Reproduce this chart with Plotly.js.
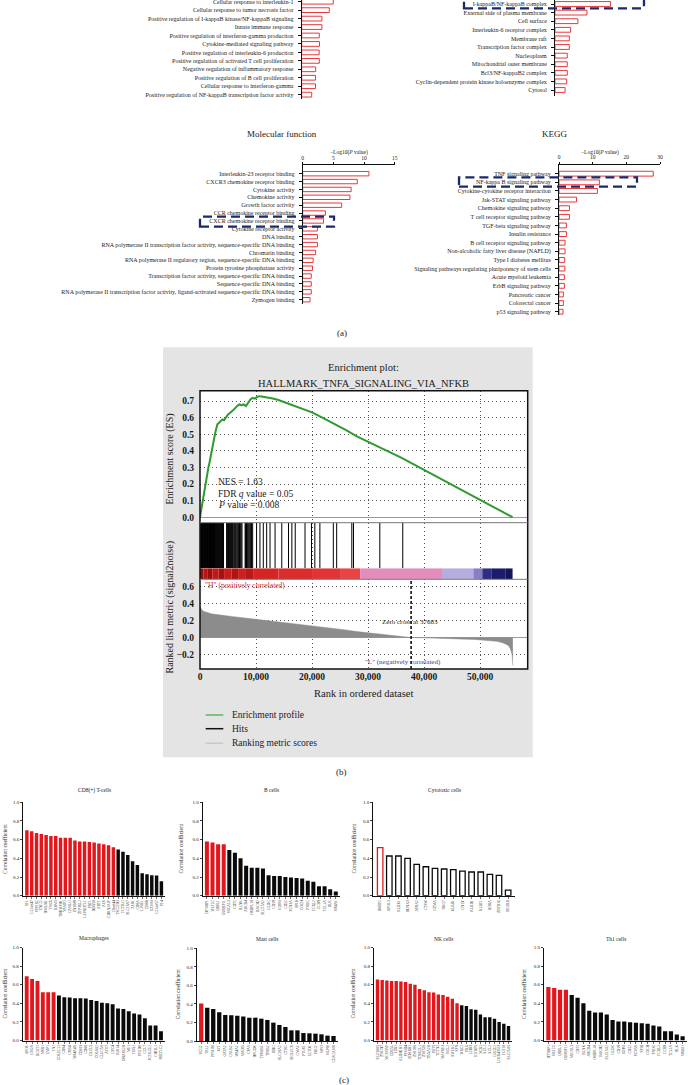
<!DOCTYPE html>
<html><head><meta charset="utf-8">
<script src="https://cdn.plot.ly/plotly-3.0.1.min.js"></script>
<style>html,body{margin:0;padding:0;background:#fff;}#chart{width:688px;height:1085px;}</style>
</head><body><div id="chart"></div>
<script>
// ---------------- (a) GO / KEGG enrichment ----------------
const bpTerms = ["Cellular response to interleukin-1","Cellular response to tumor necrosis factor","Positive regulation of I-kappaB kinase/NF-kappaB signaling","Innate immune response","Positive regulation of interferon-gamma production","Cytokine-mediated signaling pathway","Positive regulation of interleukin-6 production","Positive regulation of activated T cell proliferation","Negative regulation of inflammatory response","Positive regulation of B cell proliferation","Cellular response to interferon-gamma","Positive regulation of NF-kappaB transcription factor activity"];
const bpValues = [5.15,4.5,3.3,3.3,2.87,2.9,2.85,2.87,2.28,2.25,2.25,1.63];

const ccTerms = ["I-kappaB/NF-kappaB complex","External side of plasma membrane","Cell surface","Interleukin-6 receptor complex","Membrane raft","Transcription factor complex","Nucleoplasm","Mitochondrial outer membrane","Bcl3/NF-kappaB2 complex","Cyclin-dependent protein kinase holoenzyme complex","Cytosol"];
const ccValues = [16.5,9.5,6.8,4.65,4.25,4.25,3.65,3.65,3.65,3.47,3.0];

const mfTerms = ["Interleukin-23 receptor binding","CXCR3 chemokine receptor binding","Cytokine activity","Chemokine activity","Growth factor activity","CCR chemokine receptor binding","CXCR chemokine receptor binding","Cytokine receptor activity","DNA binding","RNA polymerase II transcription factor activity, sequence-specific DNA binding","Chromatin binding","RNA polymerase II regulatory region, sequence-specific DNA binding","Protein tyrosine phosphatase activity","Transcription factor activity, sequence-specific DNA binding","Sequence-specific DNA binding","RNA polymerase II transcription factor activity, ligand-activated sequence-specific DNA binding","Zymogen binding"];
const mfValues = [10.8,8.9,7.9,7.7,6.35,3.7,3.4,2.4,2.4,2.4,2.1,1.7,1.6,1.4,1.4,1.4,1.2];
const mfTicks = [0,5,10,15];

const keggTerms = ["TNF signaling pathway","NF-kappa B signaling pathway","Cytokine-cytokine receptor interaction","Jak-STAT signaling pathway","Chemokine signaling pathway","T cell receptor signaling pathway","TGF-beta signaling pathway","Insulin resistance","B cell receptor signaling pathway","Non-alcoholic fatty liver disease (NAFLD)","Type I diabetes mellitus","Signaling pathways regulating pluripotency of stem cells","Acute myeloid leukemia","ErbB signaling pathway","Pancreatic cancer","Colorectal cancer","p53 signaling pathway"];
const keggValues = [28.0,12.0,11.4,5.2,3.1,3.1,2.2,2.2,1.8,1.8,1.7,1.75,1.6,1.6,1.3,1.3,1.2];
const keggTicks = [0,10,20,30];

// ---------------- (b) GSEA ----------------
const gseaTitle = "HALLMARK_TNFA_SIGNALING_VIA_NFKB";
const esRank = [0,150,300,500,700,900,1100,1300,1500,1700,1900,2100,2300,2500,2800,3100,3400,3700,4000,4300,4600,5000,5400,5800,6200,6600,7000,7400,7800,8200,8600,9000,9400,9800,10200,10600,11000,11500,12000,12500,13000,14000,15000,16000,17000,18000,19000,20000,22000,24000,26000,28000,30000,32000,34000,36000,38000,40000,42000,44000,46000,48000,50000,52000,54000,55800];
const esScore = [0,0.03,0.07,0.12,0.16,0.2,0.23,0.27,0.3,0.33,0.37,0.41,0.44,0.47,0.52,0.56,0.57,0.58,0.59,0.585,0.6,0.62,0.63,0.64,0.655,0.67,0.68,0.675,0.68,0.67,0.69,0.71,0.72,0.715,0.725,0.73,0.728,0.726,0.722,0.72,0.716,0.707,0.695,0.683,0.672,0.66,0.645,0.632,0.598,0.563,0.527,0.487,0.455,0.42,0.392,0.358,0.322,0.285,0.249,0.213,0.177,0.14,0.104,0.069,0.033,0];
const hitRanks = [60,150,260,340,430,520,610,700,800,880,960,1050,1150,1240,1330,1420,1500,1600,1700,1780,1870,1960,2050,2150,2240,2330,2420,2510,2600,2700,2790,2880,2980,3070,3160,3250,3350,3440,3530,3620,3720,3810,3900,4000,4100,4200,4750,4850,4950,5080,5200,5300,5420,5550,5650,5780,5900,6050,6200,6300,6450,6600,6750,6900,7050,7200,7350,7500,8050,8150,8300,8450,8600,8750,8900,9050,9200,9400,10100,10700,11300,11900,12500,13400,14600,15800,16400,17000,18750,19900,20500,21400,23800,24400,27100,27400,32100,36200];
const metricRank = [0,100,300,600,1000,1500,2000,3000,4000,5000,6000,8000,10000,12000,14000,16000,18000,20000,22000,24000,26000,28000,30000,32000,34000,36000,37683,40000,43000,43300,46000,49000,51000,53000,54000,55000,55400,55700,55850];
const metricScore = [0.37,0.35,0.33,0.31,0.30,0.29,0.28,0.27,0.26,0.255,0.245,0.23,0.215,0.2,0.185,0.17,0.155,0.14,0.12,0.105,0.09,0.07,0.055,0.042,0.028,0.012,0,-0.003,-0.006,-0.012,-0.016,-0.022,-0.03,-0.045,-0.06,-0.09,-0.13,-0.2,-0.33];
const segStart = [0,600,1400,2200,3300,4300,5600,6800,8200,9600,14000,20000,25000,28600,43200,48800,50400,52000,54500];
const segEnd   = [600,1400,2200,3300,4300,5600,6800,8200,9600,14000,20000,25000,28600,43200,48800,50400,52000,54500,55800];
const segColor = ["#8e0c0c","#b81414","#9a0e0e","#c01818","#a51010","#c81c1c","#b01515","#cc2020","#b81818","#d42424","#dc2c2c","#e23434","#e84444","#e48cbc","#b4aede","#8a7ec6","#2e2e86","#1c1c6c","#14145a"];
const rankTicks = [0,10000,20000,30000,40000,50000];
const rankTickText = ["0","10,000","20,000","30,000","40,000","50,000"];
const esTicks = [0,0.1,0.2,0.3,0.4,0.5,0.6,0.7];
const metricTicks = [-0.2,0,0.2,0.4,0.6];
const zeroCross = 37683;
const nes = "1.63", fdrQ = "0.05", pValue = "0.008";

// ---------------- (c) correlation bar charts ----------------
const cd8Genes = ["SF1","C12orf47","PPP1R2","ZNF22","DNAJB1","TMC6","RBM3","THUMPD1","VAMP2","CAMLG","ZNF609","ZFP36L2","LEPROTL1","PRF1","DDX50","ABT1","AES","CDKN2AIP","C8orf44","TSC22D3","FLT3LG","SLC16A7","ZEB1","CD8A","LIME1","CD8B","GZMM","C21orf57","PF4"];
const cd8Values = [0.70,0.69,0.67,0.66,0.65,0.64,0.64,0.62,0.62,0.62,0.59,0.58,0.58,0.575,0.57,0.56,0.55,0.54,0.52,0.495,0.47,0.435,0.37,0.33,0.24,0.23,0.22,0.215,0.155];
const cd8Red = 19;
const bGenes = ["DTNBP1","MEF2C","QRSL1","GUSBP11","MICAL3","CD72","BLNK","ABCB4","OSBPL10","BACH2","SLC15A2","GLDC","CD19","IGHM","CD22","SCN3A","SPIB","COCH","PNOC","FCRL2","CCR9","TCL1A","BLK","MS4A1"];
const bValues = [0.58,0.57,0.55,0.55,0.49,0.46,0.40,0.32,0.30,0.30,0.29,0.22,0.21,0.21,0.20,0.195,0.19,0.185,0.16,0.15,0.10,0.10,0.07,0.045];
const bRed = 4;
const cytoGenes = ["DUSP2","APOL3","KLRK1","RUNX3","APBA2","CTSW","GZMA","NKG7","KLRB1","GNLY","KLRD1","KLRF1","RORA","ZBTB16","SIGIRR"];
const cytoValues = [0.514,0.425,0.425,0.40,0.336,0.31,0.293,0.286,0.28,0.264,0.254,0.254,0.229,0.218,0.06];
const cytoRed = 1;
const macroGenes = ["APOE","GM2A","BCAT1","MSR1","EMP1","FN1","COLEC12","CD84","CYBB","MS4A4A","CD163","CD68","CXCL5","COL8A2","CLEC5A","ATG7","GPC4","RAI14","DNASE2B","ME1","FDX1","PTGDS","CCL7","PCOLCE2","CHI3L1","SULT1C2"];
const macroValues = [0.69,0.66,0.64,0.52,0.52,0.52,0.485,0.465,0.462,0.455,0.455,0.452,0.435,0.425,0.405,0.40,0.39,0.345,0.34,0.315,0.29,0.28,0.24,0.16,0.16,0.10];
const macroRed = 6;
const mastGenes = ["SCG2","TAL1","PPM1H","KIT","GATA2","CALB2","MS4A2","MAOB","CPA3","HPGDS","TPSAB1","TPSB2","HDC","SLC18A2","CTSG","SIGLEC6","CMA1","PTGS1","ELTD1","PRG2","MPO","MLPH","CEACAM8"];
const mastValues = [0.405,0.36,0.345,0.31,0.28,0.277,0.273,0.263,0.252,0.252,0.241,0.227,0.198,0.173,0.151,0.115,0.115,0.086,0.083,0.079,0.072,0.058,0.054];
const mastRed = 1;
const nkGenes = ["SLC30A5","ZNF747","MCM3AP","CDC5L","FZR1","ALDH1B1","PSMD4","ADARB1","ZNF205","TINAGL1","ZNF528","TBXA2R","FUT5","TCTN2","MAPRE3","BCL2","SMEK1","SPN","MRC2","PRX","LDB3","IGFBP5","NCR1","XCL1","XCL2","GAGE2","LOC643313","FGF18","SLC25A5"];
const nkValues = [0.655,0.65,0.645,0.64,0.64,0.635,0.63,0.61,0.60,0.555,0.54,0.52,0.515,0.495,0.49,0.47,0.45,0.40,0.38,0.37,0.335,0.33,0.28,0.25,0.25,0.235,0.20,0.18,0.155];
const nkRed = 18;
const th1Genes = ["DTNBP1","MEF2C","QRSL1","GUSBP11","MICAL3","CD72","BLNK","ABCB4","OSBPL10","BACH2","SLC15A2","GLDC","CD19","IGHM","CD22","SCN3A","SPIB","COCH","PNOC","FCRL2","CCR9","TCL1A","BLK","MS4A1"];
const th1Values = [0.575,0.565,0.545,0.545,0.49,0.46,0.40,0.32,0.30,0.30,0.28,0.22,0.205,0.205,0.195,0.19,0.185,0.18,0.16,0.15,0.10,0.10,0.065,0.045];
const th1Red = 4;
const corrTicks = [0,0.2,0.4,0.6,0.8,1.0];

// ================= drawing =================
const W = 688, H = 1085;
const SERIF = '"Liberation Serif", "Times New Roman", serif';
const fx = p => p / W, fy = p => 1 - p / H;
const xd = (a, b) => [fx(a), fx(b)];
const yd = (top, bot) => [fy(bot), fy(top)];
const traces = [];
const layout = {width:W, height:H, margin:{l:0,r:0,t:0,b:0}, paper_bgcolor:'#ffffff', plot_bgcolor:'#ffffff',
  showlegend:false, font:{family:SERIF, color:'#111'}, annotations:[], shapes:[]};

function ann(text, x, y, size, o) {
  o = o || {};
  layout.annotations.push({text, x:fx(x), y:fy(y), xref:'paper', yref:'paper', showarrow:false,
    font:{family:SERIF, size, color:o.color || '#1a1a1a', weight:o.weight || 'normal'},
    xanchor:o.xanchor || 'center', yanchor:'middle', textangle:o.angle || 0});
}
function rect(x0, y0, x1, y1, fill, lineColor, lw, layer, dash) {
  layout.shapes.push({type:'rect', xref:'paper', yref:'paper', x0:fx(x0), x1:fx(x1), y0:fy(y1), y1:fy(y0),
    fillcolor:fill, line:{color:lineColor || 'rgba(0,0,0,0)', width:lw || 0, dash:dash || 'solid'}, layer:layer || 'above'});
}
function hline(x0, x1, y, color, w) {
  layout.shapes.push({type:'line', xref:'paper', yref:'paper', x0:fx(x0), x1:fx(x1), y0:fy(y), y1:fy(y), line:{color, width:w}, layer:'above'});
}

// ---- (a) horizontal bar panels
function hbarPanel(n, terms, vals, c) {
  traces.push({type:'bar', orientation:'h', y:terms, x:vals, xaxis:'x'+n, yaxis:'y'+n, width:0.56,
    marker:{color:'#ffffff', line:{color:'#e8383c', width:1}}, hoverinfo:'skip'});
  layout['xaxis'+n] = {domain:xd(c.x0, c.x1), range:c.xrange, anchor:'y'+n, side:'top', visible:c.showX,
    showline:true, linecolor:'#111', linewidth:1, ticks:'outside', ticklen:2, tickwidth:1, tickcolor:'#111',
    tickvals:c.ticks, tickfont:{family:SERIF, size:5.5, color:'#222'}, showgrid:false, zeroline:false, fixedrange:true};
  layout['yaxis'+n] = {domain:yd(c.top, c.bot), type:'category', categoryorder:'array', categoryarray:terms,
    range:[(c.bot - c.p0) / c.s, (c.top - c.p0) / c.s], autorange:false, anchor:'x'+n,
    showline:true, linecolor:'#111', linewidth:1, ticks:'outside', ticklen:3, tickwidth:1, tickcolor:'#111',
    tickfont:{family:SERIF, size:6, color:'#222'}, ticklabelstandoff:3, showgrid:false, zeroline:false, fixedrange:true};
}
hbarPanel(1, bpTerms, bpValues, {x0:301.7, x1:400, xrange:[0,16.04], showX:false, top:0, bot:99, p0:1.7, s:8.45});
hbarPanel(2, ccTerms, ccValues, {x0:555, x1:660, xrange:[0,31.2], showX:false, top:0, bot:96, p0:4, s:8.6});
hbarPanel(3, mfTerms, mfValues, {x0:302.7, x1:394.7, xrange:[0,15], ticks:mfTicks, showX:true, top:165, bot:304, p0:173.7, s:7.875});
hbarPanel(4, keggTerms, keggValues, {x0:559, x1:660, xrange:[0,30], ticks:keggTicks, showX:true, top:164.5, bot:315, p0:173.7, s:8.625});

ann('Molecular function', 281.7, 134.3, 9);
ann('KEGG', 554.7, 134, 9);
ann('−Log10(<i>P</i> value)', 348.8, 152.7, 5.5);
ann('−Log10(<i>P</i> value)', 600, 152.7, 5.5);
ann('(a)', 342, 333.3, 9);
const NAVY = '#1b2a6b';
rect(464, -4, 644, 8.3, 'rgba(0,0,0,0)', NAVY, 2.3, 'above', '9px,5px');
rect(200, 216.7, 334, 226.7, 'rgba(0,0,0,0)', NAVY, 2.3, 'above', '9px,5px');
rect(459, 177.3, 637, 186.7, 'rgba(0,0,0,0)', NAVY, 2.3, 'above', '9px,5px');

// ---- (b) GSEA
const GX0 = 200, GX1 = 527.7;
const GRID = {gridcolor:'#555', griddash:'1px,3px', gridwidth:1};
rect(163, 347.3, 532.7, 757.3, '#e4e4e4', null, 0, 'below');
rect(GX0, 390.7, GX1, 669, '#ffffff', null, 0, 'below');
const gridX = (n, labels) => Object.assign({domain:xd(GX0, GX1), range:[0,58500], anchor:'y'+n, showgrid:true,
  tickvals:rankTicks, ticktext:rankTickText, showticklabels:labels, ticks:'',
  zeroline:false, showline:false, tickfont:{family:SERIF, size:9.5, color:'#1a1a1a', weight:'bold'}, fixedrange:true}, GRID);
layout.xaxis5 = gridX(5, false);
layout.yaxis5 = Object.assign({domain:yd(390.7, 522.7), range:[-0.033, 0.763], anchor:'x5', tickvals:esTicks,
  ticktext:esTicks.map(v => v.toFixed(1)), showgrid:true, ticks:'',
  zeroline:true, zerolinecolor:'#9a9a9a', zerolinewidth:1, ticklabelstandoff:5,
  tickfont:{family:SERIF, size:9.5, color:'#1a1a1a', weight:'bold'}, fixedrange:true}, GRID);
layout.xaxis6 = gridX(6, false);
layout.yaxis6 = {domain:yd(522.7, 568.3), range:[0,1], anchor:'x6', visible:false, fixedrange:true};
layout.xaxis7 = {domain:xd(GX0, GX1), range:[0,58500], anchor:'y7', visible:false, fixedrange:true};
layout.yaxis7 = {domain:yd(568.3, 579.3), range:[-0.5,0.5], anchor:'x7', visible:false, fixedrange:true};
layout.xaxis8 = gridX(8, true);
layout.yaxis8 = Object.assign({domain:yd(579.3, 669), range:[-0.37, 0.685], anchor:'x8', tickvals:metricTicks,
  ticktext:metricTicks.map(v => (v < 0 ? '−' : '') + Math.abs(v).toFixed(1)), showgrid:true,
  ticks:'', zeroline:true, zerolinecolor:'#9a9a9a', zerolinewidth:1, ticklabelstandoff:5,
  tickfont:{family:SERIF, size:9.5, color:'#1a1a1a', weight:'bold'}, fixedrange:true}, GRID);

traces.push({type:'scatter', mode:'lines', x:metricRank, y:metricScore, xaxis:'x8', yaxis:'y8', fill:'tozeroy',
  fillcolor:'#8c8c8c', line:{color:'#8c8c8c', width:0.5}, hoverinfo:'skip'});
const hx = [], hy = [];
hitRanks.forEach(r => { hx.push(r, r, null); hy.push(0, 1, null); });
traces.push({type:'scatter', mode:'lines', x:hx, y:hy, xaxis:'x6', yaxis:'y6', line:{color:'#000', width:1}, hoverinfo:'skip'});
traces.push({type:'bar', orientation:'h', y:segStart.map(() => 0), base:segStart, x:segEnd.map((e, i) => e - segStart[i]),
  xaxis:'x7', yaxis:'y7', width:1, marker:{color:segColor, line:{width:0}}, hoverinfo:'skip'});
traces.push({type:'scatter', mode:'lines', x:esRank, y:esScore, xaxis:'x5', yaxis:'y5', line:{color:'#2f9a2f', width:2}, hoverinfo:'skip'});

layout.shapes.push({type:'line', xref:'x8', yref:'y8 domain', x0:zeroCross, x1:zeroCross, y0:0, y1:1,
  line:{color:'#000', width:1.5, dash:'3px,2px'}, layer:'above'});
rect(GX0, 390.7, GX1, 669, 'rgba(0,0,0,0)', '#111', 1.5, 'above');
hline(GX0, GX1, 522.7, '#777', 1);
hline(GX0, GX1, 579.3, '#777', 1);

ann('Enrichment plot:', 363.3, 367.7, 10.5);
ann(gseaTitle, 363.3, 383.3, 10.5);
ann('NES = ' + nes, 215.7, 482.3, 9.5, {xanchor:'left'});
ann('FDR <i>q</i> value = ' + fdrQ, 215.7, 494, 9.5, {xanchor:'left'});
ann('<i>P</i> value = ' + pValue, 215.7, 505.3, 9.5, {xanchor:'left'});
ann('"H" (positively correlated)', 203, 585, 7.5, {xanchor:'left', color:'#e01b1b'});
ann('Zero cross at ' + zeroCross, 410, 622, 7);
ann('"L" (negatively correlated)', 403, 662.3, 7, {color:'#3a3a9e'});
ann('Enrichment score (ES)', 169.5, 459, 10, {angle:-90});
ann('Ranked list metric (signal2noise)', 169.5, 608, 10, {angle:-90});
ann('Rank in ordered dataset', 364, 693.3, 10.5);
hline(205.7, 223.3, 715, '#5cb85c', 1.5);
hline(205.7, 223.3, 728.7, '#111', 1.5);
hline(205.7, 223.3, 743.3, '#c8c8c8', 1.5);
ann('Enrichment profile', 230, 715, 9.5, {xanchor:'left'});
ann('Hits', 230, 728.7, 9.5, {xanchor:'left'});
ann('Ranking metric scores', 230, 743.3, 9.5, {xanchor:'left'});
ann('(b)', 341.7, 772, 9);

// ---- (c) correlation panels
const RED = '#e3161b', BLK = '#0a0a0a';
function corrPanel(n, title, genes, vals, nRed, c) {
  const cols = vals.map((v, i) => i < nRed ? RED : BLK);
  const t = {type:'bar', x:genes, y:vals, xaxis:'x'+n, yaxis:'y'+n, hoverinfo:'skip'};
  if (c.open) { t.width = 0.6; t.marker = {color:'#ffffff', line:{color:cols, width:1.3}}; }
  else { t.width = 0.72; t.marker = {color:cols, line:{width:0}}; }
  traces.push(t);
  layout['xaxis'+n] = {domain:xd(c.x0, c.x1), type:'category', categoryorder:'array', categoryarray:genes,
    range:[-0.75, genes.length - 0.25], anchor:'y'+n, showline:true, linecolor:'#111', linewidth:1,
    ticks:'outside', ticklen:2, tickwidth:0.6, tickcolor:'#111', tickangle:-90,
    tickfont:{family:SERIF, size:3.6, color:'#333'}, showgrid:false, zeroline:false, fixedrange:true};
  layout['yaxis'+n] = {domain:yd(c.top, c.bot), range:[0,1], anchor:'x'+n, tickvals:corrTicks,
    ticktext:corrTicks.map(v => v.toFixed(1)), showline:true, linecolor:'#111', linewidth:1, ticks:'outside',
    ticklen:2, tickwidth:0.8, tickcolor:'#111', tickfont:{family:SERIF, size:5, color:'#222'},
    showgrid:false, zeroline:false, fixedrange:true};
  ann(title, (c.x0 + c.x1) / 2, c.titleY, 5.5);
  ann('Correlation coefficient', c.yt, (c.top + c.bot) / 2, 5.5, {angle:-90});
}
corrPanel(9, 'CD8(+) T-cells', cd8Genes, cd8Values, cd8Red, {x0:23.3, x1:165, top:802.3, bot:895.7, titleY:790, yt:5});
corrPanel(10, 'B cells', bGenes, bValues, bRed, {x0:202.7, x1:340, top:802.3, bot:895.7, titleY:790, yt:180.5});
corrPanel(11, 'Cytotoxic cells', cytoGenes, cytoValues, cytoRed, {x0:373.3, x1:515, top:802.3, bot:895.7, titleY:790, yt:353.5, open:true});
corrPanel(12, 'Macrophages', macroGenes, macroValues, macroRed, {x0:22.7, x1:165, top:947.5, bot:1040.5, titleY:937.5, yt:4.5});
corrPanel(13, 'Mast cells', mastGenes, mastValues, mastRed, {x0:196.7, x1:338, top:948.3, bot:1041, titleY:939, yt:177.5});
corrPanel(14, 'NK cells', nkGenes, nkValues, nkRed, {x0:374, x1:512, top:947.5, bot:1040.5, titleY:939, yt:352.5});
corrPanel(15, 'Th1 cells', th1Genes, th1Values, th1Red, {x0:544, x1:687, top:947.5, bot:1040.5, titleY:939, yt:524});
ann('(c)', 344, 1080, 9);

Plotly.newPlot('chart', traces, layout, {staticPlot:true, displayModeBar:false});
</script></body></html>
